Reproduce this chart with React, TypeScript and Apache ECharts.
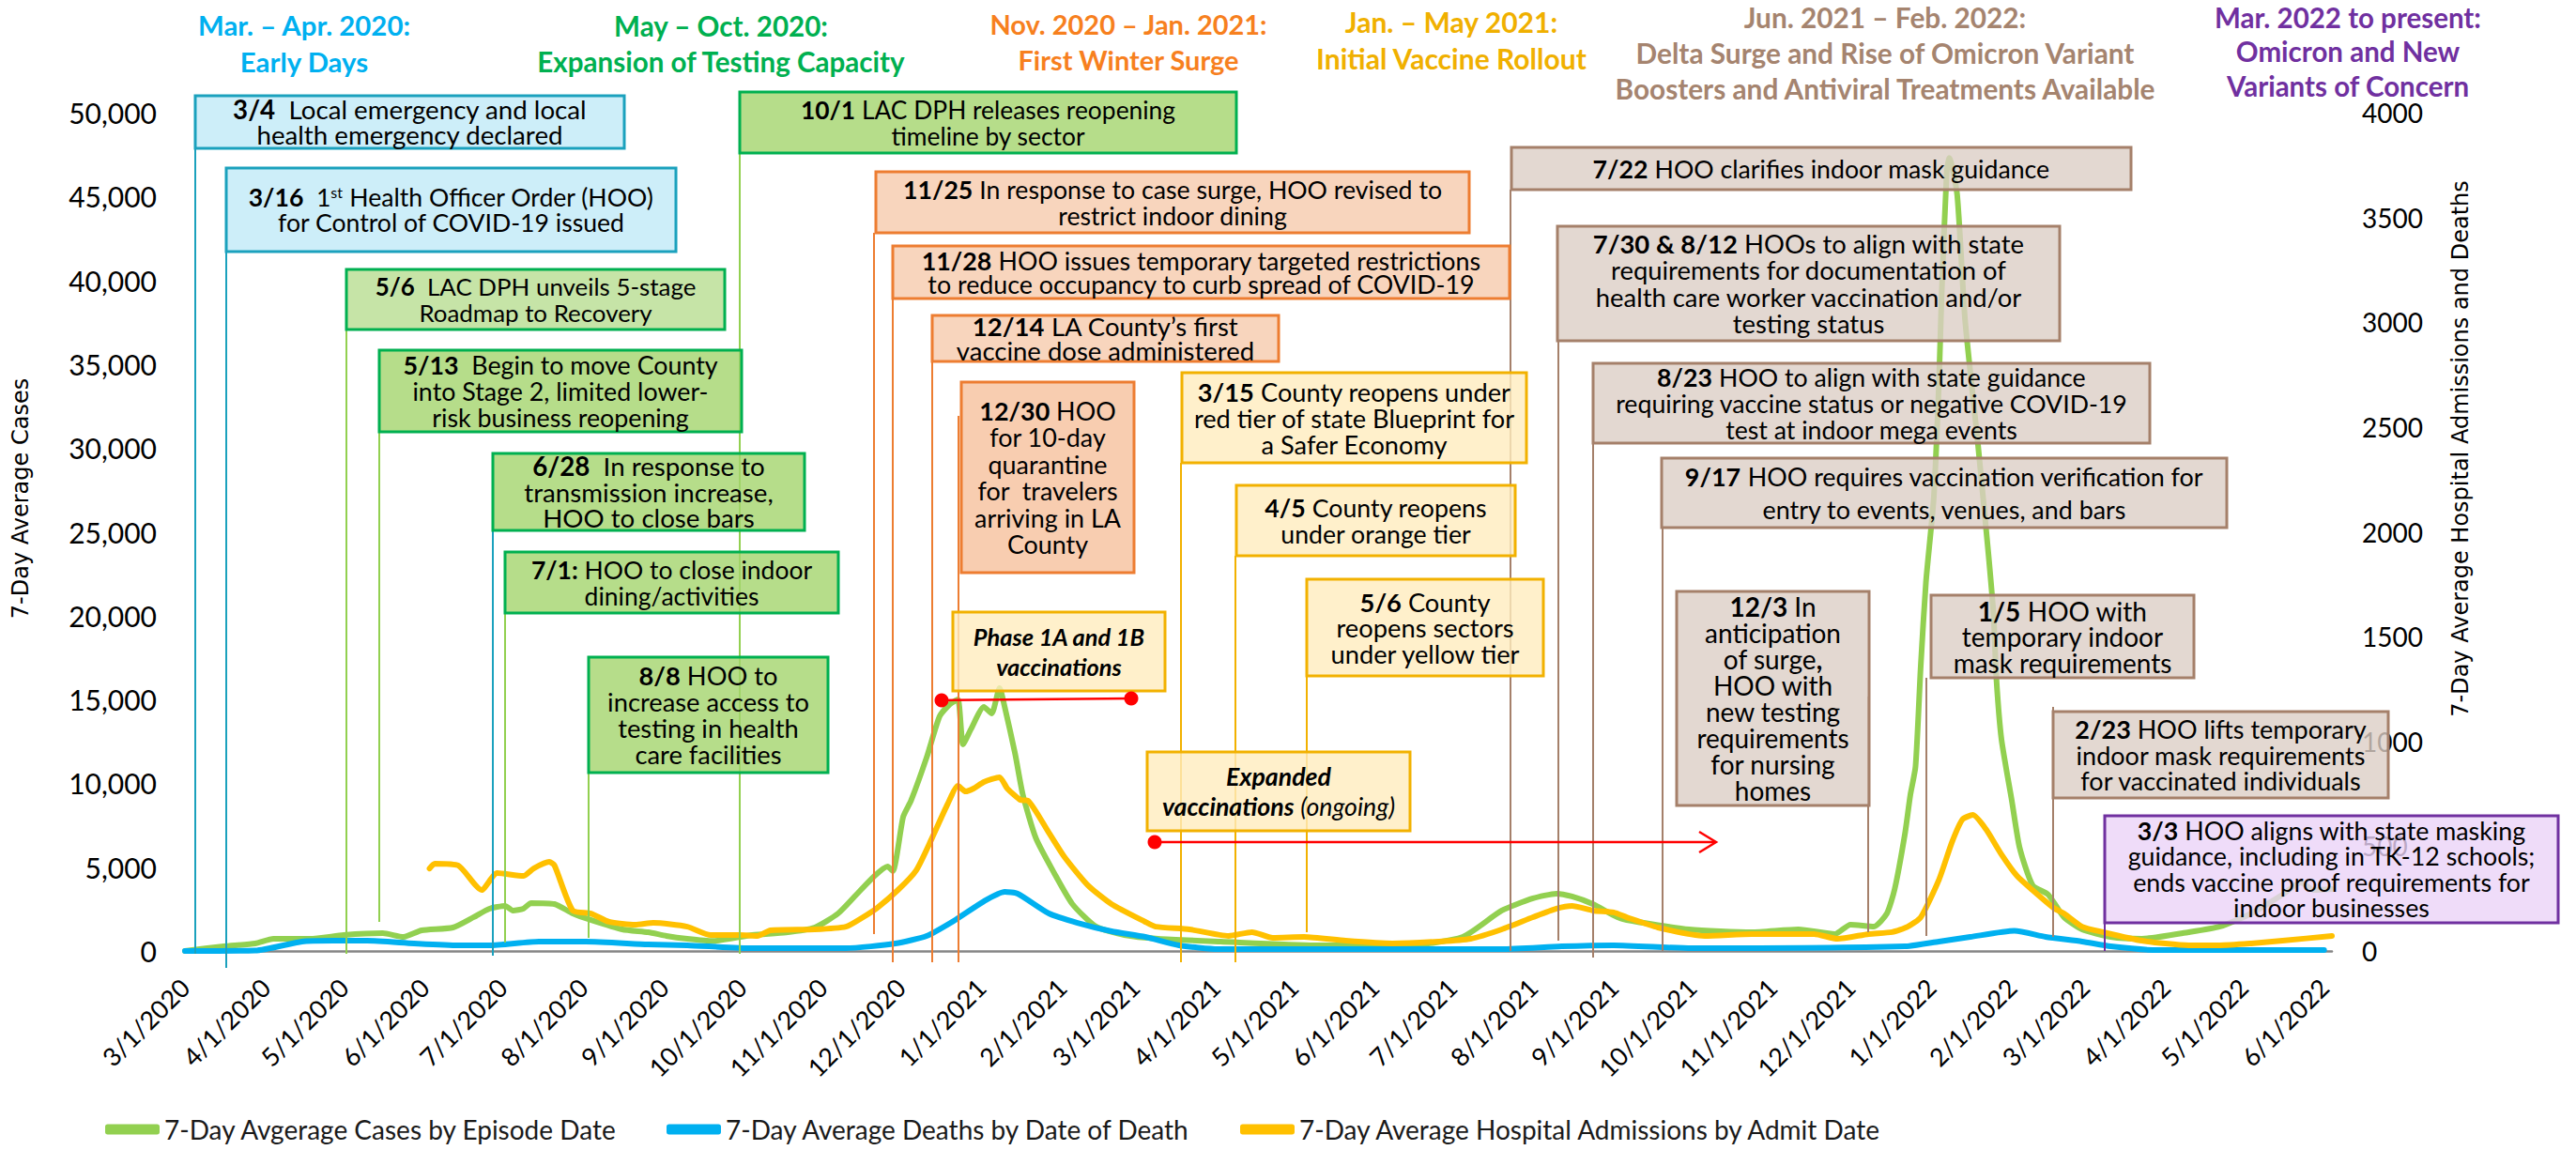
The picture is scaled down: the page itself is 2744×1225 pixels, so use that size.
import React, { useEffect, useRef } from "react";
import * as echarts from "echarts";

const F = "Lato";
const START = Date.UTC(2020, 2, 1);
const DAYS = 826; // 3/1/2020 .. 6/4/2022

const CASES_NAME = "7-Day Avgerage Cases by Episode Date";
const DEATHS_NAME = "7-Day Average Deaths by Date of Death";
const HOSP_NAME = "7-Day Average Hospital Admissions by Admit Date";

const casesData: [string, number][] = [
  ["2020-03-01", 0], ["2020-03-16", 280], ["2020-03-28", 450], ["2020-04-04", 730], ["2020-04-18", 730],
  ["2020-05-01", 950], ["2020-05-16", 1060], ["2020-05-24", 840], ["2020-05-31", 1230], ["2020-06-12", 1400],
  ["2020-06-20", 2020], ["2020-06-26", 2520], ["2020-07-02", 2690], ["2020-07-05", 2410], ["2020-07-09", 2520],
  ["2020-07-12", 2860], ["2020-07-21", 2800], ["2020-07-28", 2240], ["2020-08-04", 1850], ["2020-08-16", 1290],
  ["2020-08-26", 1120], ["2020-09-02", 900], ["2020-09-10", 730], ["2020-09-20", 600], ["2020-10-05", 950],
  ["2020-10-18", 1100], ["2020-10-29", 1400], ["2020-11-07", 2240], ["2020-11-14", 3360], ["2020-11-21", 4480],
  ["2020-11-26", 5040], ["2020-11-28", 4760], ["2020-12-02", 8000], ["2020-12-05", 8960], ["2020-12-11", 11540],
  ["2020-12-16", 14000], ["2020-12-20", 14730], ["2020-12-23", 15000], ["2020-12-25", 12320], ["2020-12-28", 13220],
  ["2021-01-02", 14560], ["2021-01-05", 14170], ["2021-01-08", 15680], ["2021-01-10", 14560], ["2021-01-14", 11760],
  ["2021-01-17", 9300], ["2021-01-22", 6720], ["2021-01-29", 4650], ["2021-02-05", 2800], ["2021-02-14", 1460],
  ["2021-02-25", 950], ["2021-03-10", 730], ["2021-04-03", 560], ["2021-05-09", 340], ["2021-06-14", 340],
  ["2021-07-05", 840], ["2021-07-20", 2410], ["2021-08-01", 3140], ["2021-08-10", 3420], ["2021-08-16", 3250],
  ["2021-08-24", 2800], ["2021-09-01", 2130], ["2021-09-06", 1850], ["2021-09-30", 1290], ["2021-10-24", 1120],
  ["2021-11-11", 1290], ["2021-11-25", 1010], ["2021-12-01", 1570], ["2021-12-10", 1460], ["2021-12-15", 2240],
  ["2021-12-18", 3700], ["2021-12-22", 7060], ["2021-12-24", 9300], ["2021-12-26", 11000], ["2021-12-28", 17000],
  ["2021-12-30", 22000], ["2022-01-02", 27000], ["2022-01-04", 33900], ["2022-01-05", 39000], ["2022-01-07", 46500],
  ["2022-01-08", 47300], ["2022-01-11", 45100], ["2022-01-14", 37700], ["2022-01-19", 30200], ["2022-01-23", 23700],
  ["2022-01-25", 20000], ["2022-01-26", 16400], ["2022-01-28", 12650], ["2022-02-01", 8960], ["2022-02-04", 6160],
  ["2022-02-09", 3920], ["2022-02-15", 3360], ["2022-02-21", 2020], ["2022-02-28", 1290], ["2022-03-11", 840],
  ["2022-03-23", 730], ["2022-04-10", 1120], ["2022-04-22", 1460], ["2022-05-04", 2240], ["2022-05-16", 3360],
  ["2022-05-23", 4090], ["2022-05-28", 3640], ["2022-06-04", 3700],
];

const deathsData: [string, number][] = [
  ["2020-03-01", 0], ["2020-03-28", 2], ["2020-04-15", 45], ["2020-04-27", 49], ["2020-05-10", 49],
  ["2020-05-28", 36], ["2020-06-14", 27], ["2020-06-26", 27], ["2020-07-15", 45], ["2020-08-02", 45],
  ["2020-08-26", 31], ["2020-09-10", 27], ["2020-10-05", 13], ["2020-11-10", 13], ["2020-11-29", 36],
  ["2020-12-11", 72], ["2020-12-22", 148], ["2021-01-02", 237], ["2021-01-10", 282], ["2021-01-15", 273],
  ["2021-01-27", 179], ["2021-02-07", 134], ["2021-02-20", 94], ["2021-03-05", 67], ["2021-03-18", 27],
  ["2021-04-02", 9], ["2021-07-20", 9], ["2021-08-12", 22], ["2021-09-01", 27], ["2021-10-01", 13],
  ["2021-12-22", 22], ["2022-01-04", 45], ["2022-01-16", 67], ["2022-02-02", 96], ["2022-02-14", 67],
  ["2022-02-28", 45], ["2022-03-11", 22], ["2022-03-29", 4], ["2022-06-01", 4],
];

const hospData: [string, number][] = [
  ["2020-06-03", 394], ["2020-06-05", 417], ["2020-06-14", 408], ["2020-06-23", 291], ["2020-06-29", 372],
  ["2020-07-09", 358], ["2020-07-13", 394], ["2020-07-19", 425], ["2020-07-21", 408], ["2020-07-28", 193],
  ["2020-08-04", 179], ["2020-08-11", 139], ["2020-08-21", 125], ["2020-08-28", 134], ["2020-09-10", 116],
  ["2020-09-19", 76], ["2020-09-30", 76], ["2020-10-07", 72], ["2020-10-12", 99], ["2020-10-29", 103],
  ["2020-11-10", 116], ["2020-11-16", 157], ["2020-11-22", 206], ["2020-11-30", 291], ["2020-12-07", 385],
  ["2020-12-13", 537], ["2020-12-19", 699], ["2020-12-23", 788], ["2020-12-26", 761], ["2020-12-29", 775],
  ["2021-01-02", 806], ["2021-01-08", 829], ["2021-01-11", 775], ["2021-01-16", 721], ["2021-01-19", 717],
  ["2021-01-27", 564], ["2021-02-02", 448], ["2021-02-11", 313], ["2021-02-20", 224], ["2021-03-05", 139],
  ["2021-03-09", 116], ["2021-03-22", 103], ["2021-04-06", 72], ["2021-04-15", 90], ["2021-04-23", 63],
  ["2021-05-05", 67], ["2021-05-21", 49], ["2021-06-08", 36], ["2021-06-26", 45], ["2021-07-08", 58],
  ["2021-07-20", 103], ["2021-08-01", 161], ["2021-08-10", 202], ["2021-08-16", 215], ["2021-08-24", 193],
  ["2021-09-01", 184], ["2021-09-06", 161], ["2021-09-18", 112], ["2021-10-06", 72], ["2021-10-24", 81],
  ["2021-11-17", 81], ["2021-11-26", 58], ["2021-12-08", 81], ["2021-12-17", 90], ["2021-12-23", 116],
  ["2021-12-28", 161], ["2022-01-04", 340], ["2022-01-09", 519], ["2022-01-13", 627], ["2022-01-17", 649],
  ["2022-01-22", 582], ["2022-01-28", 461], ["2022-02-03", 358], ["2022-02-09", 290], ["2022-02-17", 206],
  ["2022-02-21", 179], ["2022-02-28", 116], ["2022-03-08", 90], ["2022-03-23", 49], ["2022-04-10", 27],
  ["2022-04-22", 27], ["2022-05-04", 36], ["2022-05-16", 49], ["2022-06-04", 72],
];

const headers: { x: number; ys: number[]; color: string; lines: string[]; fit: [number, number] }[] = [
  { x: 324, ys: [26, 65], color: "#00b0f0", lines: ["Mar. – Apr. 2020:", "Early Days"], fit: [0, 227] },
  { x: 768, ys: [27, 65], color: "#00b050", lines: ["May – Oct. 2020:", "Expansion of Testing Capacity"], fit: [1, 393] },
  { x: 1202, ys: [25, 63], color: "#f7801e", lines: ["Nov. 2020 – Jan. 2021:", "First Winter Surge"], fit: [0, 296] },
  { x: 1546, ys: [23, 62], color: "#f0b000", lines: ["Jan. – May 2021:", "Initial Vaccine Rollout"], fit: [1, 289] },
  { x: 2008, ys: [18, 56, 94], color: "#a5846f", lines: ["Jun. 2021 – Feb. 2022:", "Delta Surge and Rise of Omicron Variant", "Boosters and Antiviral Treatments Available"], fit: [2, 578] },
  { x: 2501, ys: [18, 54, 91], color: "#7030a0", lines: ["Mar. 2022 to present:", "Omicron and New", "Variants of Concern"], fit: [0, 284] },
];

const palette: Record<string, { fill: string; stroke: string; leader: string }> = {
  blue: { fill: "#cdeef9", stroke: "#1ba1bd", leader: "#1ba1bd" },
  green: { fill: "#b6dd8a", stroke: "#00b050", leader: "#92d050" },
  green2: { fill: "#c6e4a7", stroke: "#00b050", leader: "#92d050" },
  orange: { fill: "#f8d5bd", stroke: "#ed7d31", leader: "#ed7d31" },
  orange2: { fill: "#f8cdb0", stroke: "#ed7d31", leader: "#ed7d31" },
  yellow: { fill: "#fff0cb", stroke: "#f2b100", leader: "#f2b100" },
  brown: { fill: "#e3d8d1", stroke: "#a5806a", leader: "#a5806a" },
  purple: { fill: "#efdcf9", stroke: "#7030a0", leader: "#7030a0" },
};

type Box = {
  x: number; y: number; w: number; h: number; kind: string; text: string; lh: number;
  fit: [number, number]; leader?: [number, number, number]; leaderColor?: string;
};

const boxes: Box[] = [
  { x: 208, y: 102, w: 457, h: 56, kind: "blue", lh: 27, fit: [0, 377], text: "{b|3/4}  Local emergency and local\nhealth emergency declared", leader: [208, 158, 1016] },
  { x: 241, y: 179, w: 479, h: 89, kind: "blue", lh: 27, fit: [0, 433], text: "{b|3/16}  1{sup|st} Health Officer Order (HOO)\nfor Control of COVID-19 issued", leader: [241, 268, 1031] },
  { x: 369, y: 287, w: 403, h: 64, kind: "green2", lh: 28, fit: [0, 342], text: "{b|5/6}  LAC DPH unveils 5-stage\nRoadmap to Recovery", leader: [369, 351, 1016] },
  { x: 404, y: 373, w: 386, h: 87, kind: "green", lh: 28, fit: [0, 335], text: "{b|5/13}  Begin to move County\ninto Stage 2, limited lower-\nrisk business reopening", leader: [404, 460, 982] },
  { x: 525, y: 483, w: 332, h: 82, kind: "green", lh: 27.5, fit: [1, 265], text: "{b|6/28}  In response to\ntransmission increase,\nHOO to close bars", leader: [525, 565, 1018], leaderColor: "#1ba1bd" },
  { x: 538, y: 588, w: 355, h: 65, kind: "green", lh: 28, fit: [0, 299], text: "{b|7/1:} HOO to close indoor\ndining/activities", leader: [538, 653, 1004] },
  { x: 627, y: 700, w: 255, h: 123, kind: "green", lh: 28.3, fit: [1, 215], text: "{b|8/8} HOO to\nincrease access to\ntesting in health\ncare facilities", leader: [627, 823, 999] },
  { x: 788, y: 98, w: 529, h: 65, kind: "green", lh: 28, fit: [0, 400], text: "{b|10/1} LAC DPH releases reopening\ntimeline by sector", leader: [788, 163, 1016] },
  { x: 933, y: 183, w: 632, h: 65, kind: "orange", lh: 28, fit: [0, 575], text: "{b|11/25} In response to case surge, HOO revised to\nrestrict indoor dining", leader: [931, 248, 995] },
  { x: 951, y: 262, w: 657, h: 56, kind: "orange", lh: 25, fit: [0, 595], text: "{b|11/28} HOO issues temporary targeted restrictions\nto reduce occupancy to curb spread of COVID-19", leader: [951, 318, 1025] },
  { x: 993, y: 336, w: 369, h: 49, kind: "orange", lh: 26.5, fit: [1, 317], text: "{b|12/14} LA County’s first\nvaccine dose administered", leader: [993, 385, 1025] },
  { x: 1024, y: 407, w: 184, h: 203, kind: "orange2", lh: 28.5, fit: [4, 156], text: "{b|12/30} HOO\nfor 10-day\nquarantine\nfor  travelers\narriving in LA\nCounty", leader: [1021, 443, 1025] },
  { x: 1015, y: 652, w: 226, h: 84, kind: "yellow", lh: 32, fit: [0, 183], text: "{bi|Phase 1A and 1B}\n{bi|vaccinations}" },
  { x: 1222, y: 801, w: 280, h: 84, kind: "yellow", lh: 32, fit: [1, 248], text: "{bi|Expanded}\n{bi|vaccinations} {i|(ongoing)}" },
  { x: 1259, y: 397, w: 367, h: 96, kind: "yellow", lh: 28, fit: [1, 342], text: "{b|3/15} County reopens under\nred tier of state Blueprint for\na Safer Economy", leader: [1258, 493, 1025] },
  { x: 1317, y: 517, w: 297, h: 75, kind: "yellow", lh: 28, fit: [0, 237], text: "{b|4/5} County reopens\nunder orange tier", leader: [1316, 592, 1025] },
  { x: 1392, y: 617, w: 252, h: 103, kind: "yellow", lh: 27.5, fit: [2, 203], text: "{b|5/6} County\nreopens sectors\nunder yellow tier", leader: [1392, 720, 993] },
  { x: 1610, y: 157, w: 660, h: 45, kind: "brown", lh: 28, fit: [0, 488], text: "{b|7/22} HOO clarifies indoor mask guidance", leader: [1609, 202, 1013] },
  { x: 1659, y: 241, w: 535, h: 122, kind: "brown", lh: 28.3, fit: [2, 455], text: "{b|7/30 & 8/12} HOOs to align with state\nrequirements for documentation of\nhealth care worker vaccination and/or\ntesting status", leader: [1660, 363, 1002] },
  { x: 1697, y: 387, w: 593, h: 85, kind: "brown", lh: 28, fit: [1, 547], text: "{b|8/23} HOO to align with state guidance\nrequiring vaccine status or negative COVID-19\ntest at indoor mega events", leader: [1697, 472, 1020] },
  { x: 1770, y: 488, w: 602, h: 74, kind: "brown", lh: 35, fit: [0, 552], text: "{b|9/17} HOO requires vaccination verification for\nentry to events, venues, and bars", leader: [1771, 562, 1013] },
  { x: 1786, y: 630, w: 205, h: 228, kind: "brown", lh: 27.9, fit: [5, 162], text: "{b|12/3} In\nanticipation\nof surge{b|,}\nHOO with\nnew testing\nrequirements\nfor nursing\nhomes", leader: [1990, 742, 993] },
  { x: 2057, y: 634, w: 280, h: 88, kind: "brown", lh: 27.5, fit: [2, 233], text: "{b|1/5} HOO with\ntemporary indoor\nmask requirements", leader: [2052, 722, 997] },
  { x: 2187, y: 758, w: 357, h: 92, kind: "brown", lh: 27.5, fit: [2, 300], text: "{b|2/23} HOO lifts temporary\nindoor mask requirements\nfor vaccinated individuals", leader: [2187, 753, 998] },
  { x: 2242, y: 869, w: 483, h: 114, kind: "purple", lh: 27.2, fit: [1, 435], text: "{b|3/3} HOO aligns with state masking\nguidance, including in TK-12 schools;\nends vaccine proof requirements for\nindoor businesses", leader: [2242, 868, 1013] },
];

function dayIndex(s: string): number {
  const [y, m, d] = s.split("-").map(Number);
  return Math.round((Date.UTC(y, m - 1, d) - START) / 86400000);
}

const categories: string[] = Array.from({ length: DAYS }, (_, i) => {
  const dt = new Date(START + i * 86400000);
  return `${dt.getUTCMonth() + 1}/${dt.getUTCDate()}/${dt.getUTCFullYear()}`;
});

function tint(hex: string, a: number): string {
  const n = parseInt(hex.slice(1), 16);
  const c = [(n >> 16) & 255, (n >> 8) & 255, n & 255].map((v) =>
    Math.max(0, Math.min(255, Math.round((v - 255 * (1 - a)) / a)))
  );
  return `rgba(${c[0]},${c[1]},${c[2]},${a})`;
}

let measureCtx: CanvasRenderingContext2D | null = null;
function textWidth(text: string, size: number, weight = "normal", style = "normal", family = F): number {
  if (!measureCtx) measureCtx = document.createElement("canvas").getContext("2d");
  if (!measureCtx) return text.length * size * 0.5;
  measureCtx.font = `${style} ${weight} ${size}px ${family}`;
  return measureCtx.measureText(text).width;
}

// width of a rich-text line at a font size
function richLineWidth(line: string, size: number): number {
  let w = 0;
  const re = /\{(\w+)\|([^}]*)\}/g;
  let last = 0;
  let m: RegExpExecArray | null;
  while ((m = re.exec(line))) {
    if (m.index > last) w += textWidth(line.slice(last, m.index), size);
    const t = m[1];
    const s = m[2];
    if (t === "b") w += textWidth(s, size, "bold");
    else if (t === "bi") w += textWidth(s, size, "bold", "italic");
    else if (t === "i") w += textWidth(s, size, "normal", "italic");
    else if (t === "sup") w += textWidth(s, size * 0.62);
    else w += textWidth(s, size);
    last = re.lastIndex;
  }
  if (last < line.length) w += textWidth(line.slice(last), size);
  return w;
}

function richStyles(fs: number, lh: number) {
  const base = { fontFamily: F, fontSize: fs, fill: "#000", lineHeight: lh };
  return {
    b: { ...base, fontWeight: "bold" },
    bi: { ...base, fontWeight: "bold", fontStyle: "italic" },
    i: { ...base, fontStyle: "italic" },
    sup: { fontFamily: F, fontSize: Math.round(fs * 0.62), fill: "#000", lineHeight: lh, verticalAlign: "top" },
  };
}

function buildGraphics() {
  const els: any[] = [];
  for (const h of headers) {
    const fs = (100 * h.fit[1]) / textWidth(h.lines[h.fit[0]], 100, "bold");
    h.lines.forEach((ln, i) => {
      els.push({
        type: "text", x: h.x, y: h.ys[i], z: 40, silent: true,
        style: { text: ln, fontFamily: F, fontSize: fs, fontWeight: "bold", fill: h.color, align: "center", verticalAlign: "middle" },
      });
    });
  }
  for (const b of boxes) {
    const p = palette[b.kind];
    if (b.leader) {
      const [lx, y1, y2] = b.leader;
      els.push({ type: "line", z: 50, silent: true, shape: { x1: lx, y1, x2: lx, y2 }, style: { stroke: b.leaderColor || p.leader, lineWidth: 2 } });
    }
  }
  for (const b of boxes) {
    const p = palette[b.kind];
    const lines = b.text.split("\n");
    const fs = Math.round(((100 * b.fit[1]) / richLineWidth(lines[b.fit[0]], 100)) * 10) / 10;
    els.push({ type: "rect", z: 60, silent: true, shape: { x: b.x, y: b.y, width: b.w, height: b.h }, style: { fill: tint(p.fill, 0.8), stroke: p.stroke, lineWidth: 3 } });
    els.push({
      type: "text", x: b.x + b.w / 2, y: b.y + b.h / 2, z: 62, silent: true,
      style: { text: b.text, fontFamily: F, fontSize: fs, fill: "#000", align: "center", verticalAlign: "middle", lineHeight: b.lh, rich: richStyles(fs, b.lh) },
    });
  }
  // red vaccination markers
  const red = "#ff0000";
  els.push({ type: "line", z: 70, silent: true, shape: { x1: 1003, y1: 746, x2: 1205, y2: 744 }, style: { stroke: red, lineWidth: 2.5 } });
  els.push({ type: "circle", z: 71, silent: true, shape: { cx: 1003, cy: 746, r: 7.5 }, style: { fill: red } });
  els.push({ type: "circle", z: 71, silent: true, shape: { cx: 1205, cy: 744, r: 7.5 }, style: { fill: red } });
  els.push({ type: "line", z: 70, silent: true, shape: { x1: 1230, y1: 897, x2: 1827, y2: 897 }, style: { stroke: red, lineWidth: 2.5 } });
  els.push({ type: "circle", z: 71, silent: true, shape: { cx: 1230, cy: 897, r: 7.5 }, style: { fill: red } });
  els.push({ type: "polyline", z: 71, silent: true, shape: { points: [[1810, 886], [1828, 897], [1810, 908]] }, style: { stroke: red, lineWidth: 2.5, fill: null } });
  // axis titles
  els.push({ type: "text", x: 22, y: 531, rotation: Math.PI / 2, z: 5, silent: true, style: { text: "7-Day Average Cases", fontFamily: "DejaVu Sans", fontSize: 24, fill: "#000", align: "center", verticalAlign: "middle" } });
  els.push({ type: "text", x: 2621, y: 478, rotation: Math.PI / 2, z: 5, silent: true, style: { text: "7-Day Average Hospital Admissions and Deaths", fontFamily: "DejaVu Sans", fontSize: 24, fill: "#000", align: "center", verticalAlign: "middle" } });
  return els;
}

function fmtThousands(v: number): string {
  return String(v).replace(/\B(?=(\d{3})+(?!\d))/g, ",");
}

function legendItem(name: string, left: number) {
  return {
    data: [name], left, top: 1184, icon: "roundRect", itemWidth: 58, itemHeight: 11, itemGap: 5,
    textStyle: { fontFamily: F, fontSize: 28, color: "#1a1a1a" },
  };
}

function buildOption() {
  const lineSeries = (name: string, data: [string, number][], color: string, yAxisIndex: number, z: number) => ({
    name, type: "line", yAxisIndex, z, symbol: "none", smooth: 0.2,
    data: data.map(([d, v]) => [dayIndex(d), v]),
    lineStyle: { color, width: 6, cap: "round", join: "round" },
    itemStyle: { color },
  });
  return {
    animation: false,
    backgroundColor: "#ffffff",
    textStyle: { fontFamily: F },
    grid: { left: 197, right: 260, top: 120, bottom: 212 },
    xAxis: {
      type: "category", data: categories, boundaryGap: false,
      axisLine: { lineStyle: { color: "#868686", width: 2.5 } },
      axisTick: { show: false },
      splitLine: { show: false },
      axisLabel: {
        interval: (_i: number, v: string) => v.split("/")[1] === "1",
        rotate: 45, fontFamily: F, fontSize: 27, color: "#000", margin: 34,
      },
    },
    yAxis: [
      {
        type: "value", min: 0, max: 50000, interval: 5000,
        axisLine: { show: false }, axisTick: { show: false }, splitLine: { show: false },
        axisLabel: { formatter: (v: number) => fmtThousands(v), fontFamily: F, fontSize: 30, color: "#000", margin: 30 },
      },
      {
        type: "value", min: 0, max: 4000, interval: 500, position: "right",
        axisLine: { show: false }, axisTick: { show: false }, splitLine: { show: false },
        axisLabel: { formatter: (v: number) => String(v), fontFamily: F, fontSize: 28, color: "#000", margin: 32 },
      },
    ],
    legend: [legendItem(CASES_NAME, 107), legendItem(DEATHS_NAME, 705), legendItem(HOSP_NAME, 1316)],
    series: [
      lineSeries(CASES_NAME, casesData, "#92d050", 0, 2),
      lineSeries(DEATHS_NAME, deathsData, "#00b0f0", 1, 3),
      lineSeries(HOSP_NAME, hospData, "#ffc000", 1, 4),
    ],
    graphic: { elements: buildGraphics() },
  };
}

export default function App() {
  const ref = useRef<HTMLDivElement>(null);
  useEffect(() => {
    if (!ref.current) return;
    const chart = echarts.init(ref.current, null, { renderer: "svg" });
    chart.setOption(buildOption() as any);
    return () => chart.dispose();
  }, []);
  return (
    <div
      ref={ref}
      style={{ position: "fixed", left: 0, top: 0, width: 2744, height: 1225, background: "#ffffff" }}
    />
  );
}
